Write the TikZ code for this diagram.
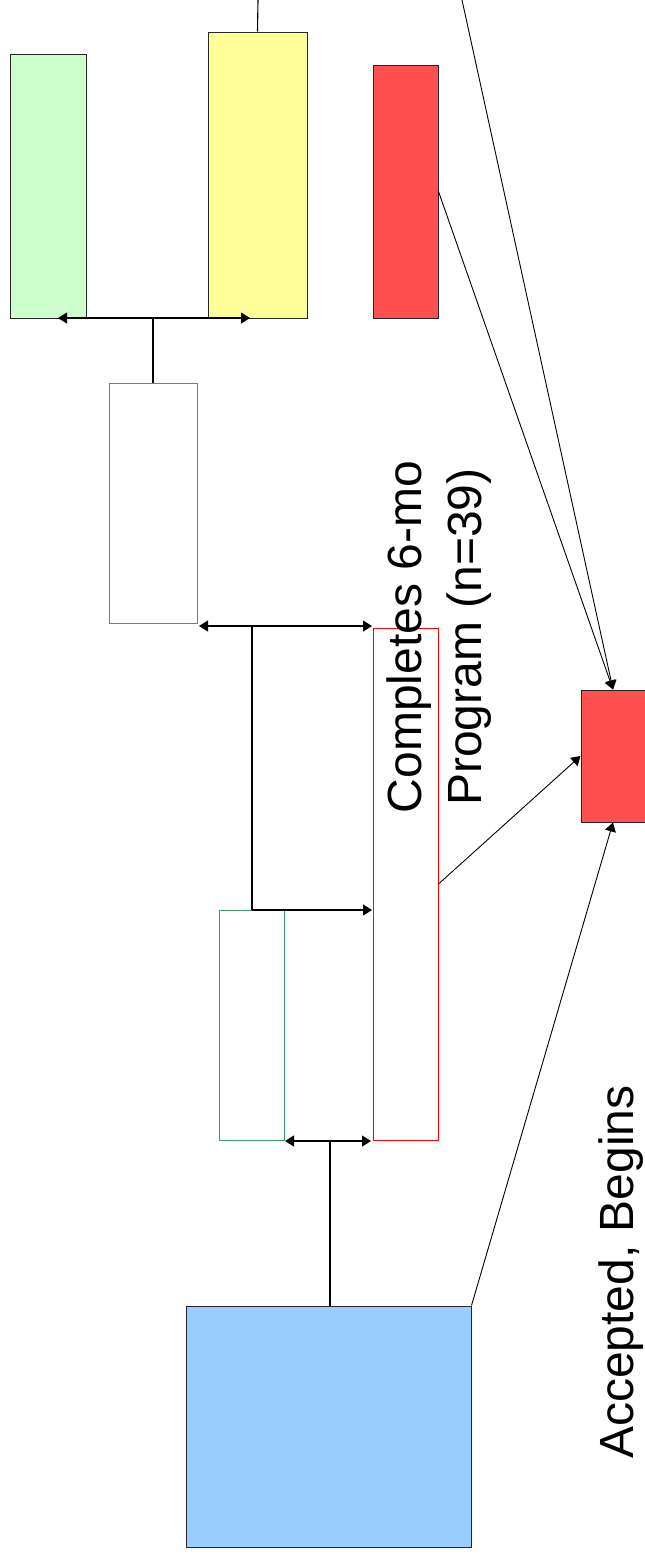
\documentclass[tikz,border=0pt]{standalone}
\usepackage{fontspec}
\setmainfont{Liberation Sans}
\usetikzlibrary{arrows.meta}
\definecolor{lgreen}{HTML}{CCFFCC}
\definecolor{lyellow}{HTML}{FFFF99}
\definecolor{lred}{HTML}{FF5050}
\definecolor{lblue}{HTML}{99CCFF}
\definecolor{seagreen}{HTML}{3C9E6E}
\begin{document}
\begin{tikzpicture}[x=1pt,y=-1pt,
  box/.style={draw=black!85,line width=1pt,inner sep=0pt,rectangle},
  obox/.style={draw=seagreen,line width=1pt,inner sep=0pt,rectangle,fill=white},
  rbox/.style={draw=red,line width=1pt,inner sep=0pt,rectangle},
  conn/.style={draw=black,line width=1.1pt},
  tip/.style={-{Triangle[length=9pt,width=11pt]}},
  tips/.style={{Triangle[length=9pt,width=11pt]}-{Triangle[length=9pt,width=11pt]}},
  lbl/.style={font=\fontsize{48}{60}\selectfont,inner sep=0pt,rotate=90,align=center}]
\useasboundingbox (0,0) rectangle (645,1558);

% coloured outcome boxes along the top
\node[box,fill=lgreen,minimum width=76pt,minimum height=264pt] (grn) at (48,186) {};
\node[box,fill=lyellow,minimum width=99pt,minimum height=286pt] (yel) at (257.5,175) {};
\node[box,fill=lred,minimum width=65pt,minimum height=253pt] (rs) at (405.5,191.5) {};

% outlined stage boxes
\node[obox,minimum width=88pt,minimum height=240pt] (bw) at (153,503) {};
\node[obox,minimum width=65pt,minimum height=230pt] (cw) at (251.5,1025) {};
\node[rbox,minimum width=65pt,minimum height=512pt] (rd) at (405.5,884) {};

% entry box and the collecting box on the right
\node[box,fill=lblue,minimum width=285pt,minimum height=241pt] (blu) at (328.5,1426.5) {};
\node[box,fill=lred,minimum width=64pt,minimum height=132pt] (br) at (613,756) {};

% labels
\node[lbl] (tcomp) at (439,637) {Completes 6-mo\\Program (n=39)};
\node[lbl,anchor=base] (tacc) at (633,1272) {Accepted, Begins};

% split below the top boxes
\coordinate (j1) at (153,318);
\coordinate (g1) at (58,318);
\coordinate (y1) at (250,318);
\coordinate (ytop) at (258,0);
\draw[conn] (bw.north) -- (j1);
\draw[conn,tips] (g1) -- (y1);
\draw[conn] (yel.north) -- (ytop);

% split below the first stage box
\coordinate (b1) at (199,626);
\coordinate (r1) at (372,626);
\coordinate (j2) at (252,626);
\coordinate (j3) at (252,910);
\coordinate (r2) at (372,910);
\draw[conn,tips] (b1) -- (r1);
\draw[conn] (j2) -- (j3);
\draw[conn,tip] (j3) -- (r2);

% split above the entry box
\coordinate (c1) at (285,1141);
\coordinate (r3) at (371,1141);
\coordinate (j4) at (330,1141);
\draw[conn,tips] (c1) -- (r3);
\draw[conn] (j4) -- (blu.north -| j4);

% lines into the collecting box
\coordinate (src) at (462,0);
\draw[line width=0.9pt,tip] (src) -- (br.north);
\draw[line width=0.9pt,tip] (rs.east) -- (br.north);
\draw[line width=0.9pt,tip] (rd.east) -- (br.west);
\draw[line width=0.9pt,tip] (blu.north east) -- (br.south);
\end{tikzpicture}
\end{document}
